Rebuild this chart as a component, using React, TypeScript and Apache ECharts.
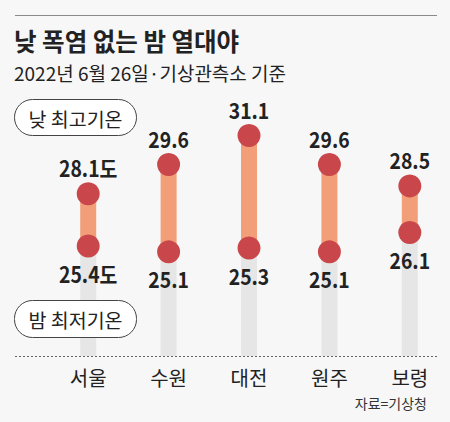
import React, { useEffect, useRef } from "react";
import * as echarts from "echarts";

const cities = ["서울", "수원", "대전", "원주", "보령"];
const highTemps = [28.1, 29.6, 31.1, 29.6, 28.5];
const lowTemps = [25.4, 25.1, 25.3, 25.1, 26.1];
const unitSuffix = ["도", "", "", "", ""];

const TITLE = "낮 폭염 없는 밤 열대야";
const SUBTITLE = "2022년 6월 26일·기상관측소 기준";
const HIGH_LABEL = "낮 최고기온";
const LOW_LABEL = "밤 최저기온";
const SOURCE = "자료=기상청";

const Y_MIN = 19.73;
const Y_MAX = 32.93;

export default function App() {
  const ref = useRef<HTMLDivElement>(null);
  useEffect(() => {
    document.body.style.margin = "0";
    const chart = echarts.init(ref.current!, null, { renderer: "svg" });
    const font = '"Noto Sans CJK KR", "Noto Sans", sans-serif';
    const txt = (text: string, x: number, y: number, size: number, weight: any, color: string, align = "left") => ({
      type: "text",
      x,
      y,
      z: 20,
      silent: true,
      style: {
        text,
        fontSize: size,
        fontWeight: weight,
        fontFamily: font,
        fill: color,
        align,
        textAlign: align,
        verticalAlign: "middle",
        textVerticalAlign: "middle",
      },
    });
    chart.setOption({
      animation: false,
      backgroundColor: "#f7f7f7",
      grid: { left: 48, right: 0, top: 100, bottom: 66 },
      xAxis: {
        type: "category",
        data: cities,
        axisLine: { show: false },
        axisTick: { show: false },
        axisLabel: { margin: 11, fontSize: 20, color: "#222", fontFamily: font },
      },
      yAxis: { type: "value", min: Y_MIN, max: Y_MAX, show: false },
      series: [
        {
          type: "custom",
          z: 2,
          data: cities.map((c, i) => [i, lowTemps[i], highTemps[i]]),
          encode: { x: 0, y: [1, 2] },
          renderItem: (params: any, api: any) => {
            const i = api.value(0);
            const lo = api.value(1);
            const hi = api.value(2);
            const base = api.coord([i, Y_MIN]);
            const pLo = api.coord([i, lo]);
            const pHi = api.coord([i, hi]);
            const w = 16;
            const r = 11.5;
            const labelStyle = (t: string) => ({
              text: t,
              fontSize: 22,
              fontWeight: "bold",
              fontFamily: font,
              fill: "#222",
              align: "center",
              verticalAlign: "middle",
            });
            return {
              type: "group",
              children: [
                { type: "rect", shape: { x: base[0] - w / 2, y: pLo[1], width: w, height: base[1] - pLo[1] }, style: { fill: "#e6e6e6" } },
                { type: "rect", shape: { x: pHi[0] - w / 2, y: pHi[1], width: w, height: pLo[1] - pHi[1] }, style: { fill: "#f29e78" } },
                { type: "circle", shape: { cx: pLo[0], cy: pLo[1], r }, style: { fill: "#c9474a" } },
                { type: "circle", shape: { cx: pHi[0], cy: pHi[1], r }, style: { fill: "#c9474a" } },
                { type: "text", x: pHi[0], y: pHi[1] - 26, scaleX: 0.88, style: labelStyle(hi.toFixed(1) + unitSuffix[i]) },
                { type: "text", x: pLo[0], y: pLo[1] + 27, scaleX: 0.88, style: labelStyle(lo.toFixed(1) + unitSuffix[i]) },
              ],
            };
          },
        },
      ],
      graphic: [
        { type: "line", z: 20, shape: { x1: 15, y1: 15.5, x2: 437, y2: 15.5 }, style: { stroke: "#8a8a8a", lineWidth: 1 }, silent: true },
        txt(TITLE, 14, 40, 24.5, "bold", "#222"),
        txt(SUBTITLE, 14, 72, 19, "normal", "#222"),
        { type: "rect", z: 20, shape: { x: 14.5, y: 99.5, width: 122, height: 36, r: 18 }, style: { fill: "#fff", stroke: "#444", lineWidth: 1 }, silent: true },
        txt(HIGH_LABEL, 75.5, 118, 19.5, "normal", "#222", "center"),
        { type: "rect", z: 20, shape: { x: 14.5, y: 300.5, width: 122, height: 37, r: 18 }, style: { fill: "#fff", stroke: "#444", lineWidth: 1 }, silent: true },
        txt(LOW_LABEL, 75.5, 319, 19.5, "normal", "#222", "center"),
        { type: "line", z: 20, shape: { x1: 15, y1: 356.5, x2: 437, y2: 356.5 }, style: { stroke: "#666", lineWidth: 1, lineDash: [2, 2] }, silent: true },
        txt(SOURCE, 427, 403, 14, "normal", "#333", "right"),
      ],
    });
    return () => chart.dispose();
  }, []);
  return <div ref={ref} style={{ width: 450, height: 422 }} />;
}
